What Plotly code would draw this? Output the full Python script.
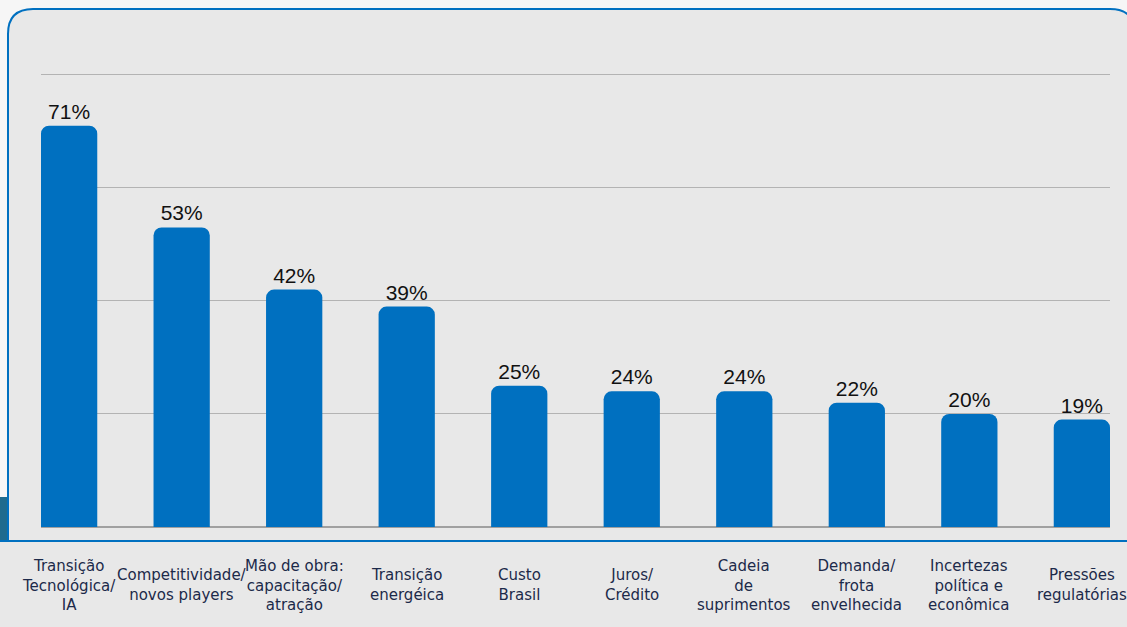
import plotly.graph_objects as go

categories = [
    "Transição<br>Tecnológica/<br>IA",
    "Competitividade/<br>novos players",
    "Mão de obra:<br>capacitação/<br>atração",
    "Transição<br>energéica",
    "Custo<br>Brasil",
    "Juros/<br>Crédito",
    "Cadeia<br>de<br>suprimentos",
    "Demanda/<br>frota<br>envelhecida",
    "Incertezas<br>política e<br>econômica",
    "Pressões<br>regulatórias",
]
values = [71, 53, 42, 39, 25, 24, 24, 22, 20, 19]
value_labels = [f"{v}%" for v in values]

W, H = 1127, 627
L, R, T, B = 41, 17, 72, 100
PW, PH = W - L - R, H - T - B

def xp(px):
    return (px - L) / PW

def yp(py):
    return (H - B - py) / PH

BLUE = "#0070C0"
GRAY = "#e8e8e8"

fig = go.Figure()
fig.add_trace(go.Bar(
    x=list(range(len(values))),
    y=values,
    width=0.5,
    marker=dict(color=BLUE, cornerradius=8, line=dict(width=0)),
    text=value_labels,
    textposition="outside",
    textfont=dict(family="Liberation Sans, Arial", size=21, color="#111111"),
    cliponaxis=False,
    hoverinfo="skip",
))

panel_path = (
    f"M {xp(8)},{yp(541)} L {xp(8)},{yp(34)} "
    f"Q {xp(8)},{yp(9)} {xp(33)},{yp(9)} "
    f"L {xp(1110)},{yp(9)} Q {xp(1135)},{yp(9)} {xp(1135)},{yp(34)} "
    f"L {xp(1135)},{yp(541)} Z"
)

shapes = [
    dict(type="path", xref="paper", yref="paper", path=panel_path,
         fillcolor=GRAY, line=dict(color=BLUE, width=2), layer="below"),
    dict(type="rect", xref="paper", yref="paper",
         x0=xp(-5), x1=xp(W + 5), y0=yp(541), y1=yp(H + 5),
         fillcolor=GRAY, line=dict(width=0), layer="below"),
    dict(type="rect", xref="paper", yref="paper",
         x0=xp(-5), x1=xp(7), y0=yp(497), y1=yp(540),
         fillcolor="#1f6b8e", line=dict(width=0), layer="below"),
    dict(type="line", xref="paper", yref="paper",
         x0=xp(-5), x1=xp(W + 5), y0=yp(541), y1=yp(541),
         line=dict(color=BLUE, width=2), layer="below"),
]

annotations = []
for i, c in enumerate(categories):
    annotations.append(dict(
        x=i, xref="x", y=yp(585), yref="paper",
        text=c, showarrow=False, xanchor="center", yanchor="middle",
        align="center",
        font=dict(family="DejaVu Sans", size=15, color="#1c2a4a"),
    ))

fig.update_layout(
    width=W, height=H,
    margin=dict(l=L, r=R, t=T, b=B, pad=0),
    paper_bgcolor="#f6f6f6",
    plot_bgcolor="rgba(0,0,0,0)",
    showlegend=False,
    bargap=0.5,
    shapes=shapes,
    annotations=annotations,
    xaxis=dict(range=[-0.25, 9.25], showticklabels=False, showgrid=False,
               zeroline=False, showline=False, ticks=""),
    yaxis=dict(range=[0, 80.5], dtick=20, showticklabels=False, showgrid=True,
               gridcolor="#b3b3b3", gridwidth=1, zeroline=True,
               zerolinecolor="#a0a0a0", zerolinewidth=1.5, ticks=""),
)

fig.write_html("out.html")
